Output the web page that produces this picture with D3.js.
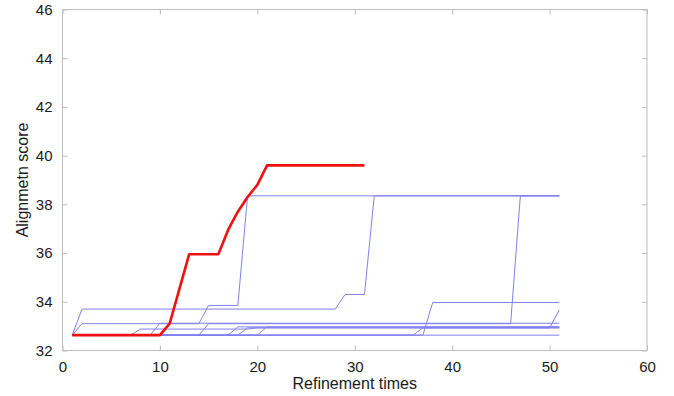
<!DOCTYPE html>
<meta charset="UTF-8">
<html lang="en">
<head><link rel="icon" href="data:,"></head>
<style>
body {
  margin: 0;
  background: #ffffff;
}
svg text {
  font-family: "Liberation Sans", Arial, sans-serif;
  fill: #1a1a1a;
}
</style>
<script src="https://d3js.org/d3.v7.min.js"></script>
<body>
<svg id="view"></svg>
</body>
<script>
const viewDims = { width: 674, height: 396 };
const margin = { top: 9.5, right: 27, bottom: 45.5, left: 62.5 };

// axis ticks
const xTicks = [0, 10, 20, 30, 40, 50, 60];
const yTicks = [32, 34, 36, 38, 40, 42, 44, 46];

// best run (red)
const bestX = [1, 10, 11, 13, 16, 17, 18, 19, 20, 21, 31];
const bestY = [32.63, 32.63, 33.1, 35.95, 35.95, 36.95, 37.7, 38.3, 38.8, 39.6, 39.6];

// other runs (blue), each as [x list, y list]
const runA = [[1, 2, 14, 15, 18, 19, 51], [32.63, 33.1, 33.1, 33.85, 33.85, 38.35, 38.35]];
const runB = [[1, 2, 28, 29, 31, 32, 51], [32.63, 33.7, 33.7, 34.3, 34.3, 38.35, 38.35]];
const runC = [[1, 14, 15, 46, 47, 51], [32.63, 32.63, 33.1, 33.1, 38.35, 38.35]];
const runD = [[1, 37, 38, 51], [32.63, 32.63, 33.97, 33.97]];
const runE = [[1, 7, 8, 19, 20, 50, 51], [32.63, 32.63, 32.88, 32.88, 32.93, 32.93, 33.66]];
const runF = [[1, 9, 10, 51], [32.63, 32.63, 33.12, 33.12]];
const runG = [[1, 17, 18, 51], [32.63, 32.63, 32.97, 32.97]];
const runH = [[1, 18, 19, 51], [32.63, 32.63, 32.93, 32.93]];
const runI = [[1, 20, 21, 51], [32.63, 32.63, 32.97, 32.97]];
const runJ = [[1, 51], [32.63, 32.63]];
const runK = [[1, 36, 37, 51], [32.63, 32.63, 32.93, 32.93]];
const otherRuns = [runA, runB, runC, runD, runE, runF, runG, runH, runI, runJ, runK];

const svg = d3.select("svg#view")
    .attr("width", viewDims.width)
    .attr("height", viewDims.height);

const x = d3.scaleLinear().domain([0, 60]).range([margin.left, viewDims.width - margin.right]);
const y = d3.scaleLinear().domain([32, 46]).range([viewDims.height - margin.bottom, margin.top]);

const frameCol = "#bdbdbd";

// frame
svg.append("rect")
   .attr("x", x(0)).attr("y", y(46))
   .attr("width", x(60) - x(0)).attr("height", y(32) - y(46))
   .attr("fill", "none").attr("stroke", frameCol).attr("stroke-width", 1);

function styleAxis(g){
    g.select(".domain").remove();
    g.selectAll(".tick line").attr("stroke", frameCol);
    g.selectAll(".tick text").style("font-size", "15px").attr("fill", "#1a1a1a");
}

// inward ticks on all four sides
svg.append("g")
   .attr("transform", `translate(0,${y(32)})`)
   .call(d3.axisBottom(x).tickValues(xTicks).tickSizeInner(-5).tickSizeOuter(0).tickPadding(11))
   .call(styleAxis);
svg.append("g")
   .attr("transform", `translate(0,${y(46)})`)
   .call(d3.axisTop(x).tickValues(xTicks).tickSizeInner(-5).tickSizeOuter(0).tickFormat(""))
   .call(styleAxis);
svg.append("g")
   .attr("transform", `translate(${x(0)},0)`)
   .call(d3.axisLeft(y).tickValues(yTicks).tickSizeInner(-5).tickSizeOuter(0).tickPadding(10))
   .call(styleAxis);
svg.append("g")
   .attr("transform", `translate(${x(60)},0)`)
   .call(d3.axisRight(y).tickValues(yTicks).tickSizeInner(-5).tickSizeOuter(0).tickFormat(""))
   .call(styleAxis);

const line = d3.line().x(d => x(d[0])).y(d => y(d[1]));
const zipRun = run => run[0].map((v, i) => [v, run[1][i]]);

svg.append("g")
   .selectAll("path")
   .data(otherRuns)
   .enter()
   .append("path")
   .attr("d", r => line(zipRun(r)))
   .attr("fill", "none")
   .attr("stroke", "rgb(128,128,238)")
   .attr("stroke-width", 1);

svg.append("path")
   .attr("d", line(zipRun([bestX, bestY])))
   .attr("fill", "none")
   .attr("stroke", "#ee1111")
   .attr("stroke-width", 2.6)
   .attr("stroke-linejoin", "round");

// axis titles
svg.append("text")
   .attr("x", (x(0) + x(60)) / 2)
   .attr("y", 389)
   .attr("text-anchor", "middle")
   .style("font-size", "16px")
   .text("Refinement times");

svg.append("text")
   .attr("transform", `translate(28,${(y(32) + y(46)) / 2}) rotate(-90)`)
   .attr("text-anchor", "middle")
   .style("font-size", "16px")
   .text("Alignmetn score");
</script>
</html>
